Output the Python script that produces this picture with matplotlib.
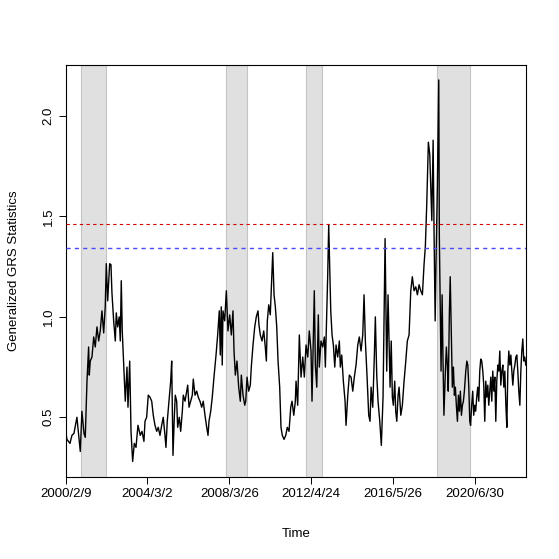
import matplotlib
matplotlib.use("Agg")
import matplotlib.pyplot as plt

plt.rcParams["font.family"] = ["Liberation Sans", "DejaVu Sans"]

obs = [1, 17, 54, 78, 103, 139, 180, 200, 225, 241, 262, 282, 290, 302, 323, 344, 363, 384,
       405, 424, 445, 466, 485, 498, 515, 539, 555, 567, 588, 608, 620, 637, 656, 669, 681,
       693, 710, 730, 751, 763, 784, 800, 820, 840, 861, 885, 913, 934, 958,
       971, 991, 1011, 1032, 1053, 1072, 1093, 1114, 1133, 1154, 1175, 1194, 1215, 1227,
       1243, 1264, 1285, 1297, 1304, 1313, 1329, 1341, 1358, 1370, 1390, 1407, 1427, 1439,
       1460, 1480, 1493, 1509, 1529, 1549, 1561, 1582, 1603, 1622, 1643, 1664, 1683, 1704,
       1725, 1741, 1753, 1774, 1793, 1814, 1839, 1859, 1879, 1891, 1903, 1915, 1924,
       1945, 1965, 1985, 2006, 2026, 2046, 2059, 2075, 2095, 2116, 2136, 2148, 2169, 2190,
       2202, 2218, 2238, 2258, 2270, 2291, 2312, 2331, 2352, 2364, 2380, 2401, 2422, 2441,
       2454, 2466, 2483, 2502, 2515, 2532, 2548, 2564, 2581, 2597, 2617, 2633, 2649, 2670,
       2691, 2710, 2731, 2752, 2768, 2789, 2808,
       2817, 2837, 2857, 2878, 2899, 2918, 2939, 2960, 2979, 3000, 3012, 3028, 3040, 3053,
       3070, 3089, 3101, 3122, 3143, 3163, 3175, 3192, 3204, 3216, 3228, 3241, 3257, 3273,
       3290, 3306, 3326, 3346, 3358, 3375, 3395, 3416, 3428, 3449, 3468, 3489, 3510, 3529,
       3550, 3571, 3590, 3611, 3632, 3648, 3664, 3685, 3705, 3721, 3734, 3754, 3774, 3786,
       3803, 3819,
       3840, 3859, 3880, 3892, 3905, 3917, 3925, 3941, 3953, 3966, 3980, 3994, 4006, 4023,
       4035, 4048, 4064, 4076, 4097, 4116, 4137, 4158, 4177, 4198, 4219, 4238, 4259, 4280,
       4300, 4320, 4341, 4361, 4381, 4397, 4414, 4434, 4451, 4463, 4476, 4492, 4504, 4517,
       4529, 4544, 4561, 4568,
       4577, 4589, 4602, 4612, 4624, 4642, 4654, 4666, 4677, 4691, 4701, 4715, 4727, 4740,
       4752, 4764, 4776, 4789, 4801, 4813, 4825, 4838, 4850, 4862, 4874, 4891, 4904, 4916,
       4928, 4940, 4950, 4963, 4976, 4988, 5000, 5012, 5025, 5037, 5050, 5062, 5074, 5086,
       5099, 5111, 5123, 5136, 5148, 5160, 5172, 5185, 5197, 5209, 5221, 5234, 5246, 5258,
       5270, 5283, 5295, 5307, 5319, 5332, 5344, 5356, 5368, 5381, 5393, 5405, 5417, 5430,
       5442, 5454, 5466, 5478, 5491, 5503, 5515, 5527, 5539, 5552, 5564, 5576, 5588, 5600,
       5612, 5625]

grs = [0.43, 0.39, 0.37, 0.41, 0.42, 0.50, 0.33, 0.53, 0.42, 0.40, 0.68, 0.85, 0.71, 0.78,
       0.80, 0.90, 0.85, 0.95, 0.88, 0.93, 1.03, 0.92, 1.05, 1.265, 1.08, 1.265, 1.26, 1.12,
       0.98, 0.88, 1.02, 0.95, 1.00, 0.88, 1.18, 0.93, 0.77, 0.58, 0.75, 0.55, 0.78, 0.43,
       0.28, 0.37, 0.35, 0.46, 0.41, 0.43, 0.38,
       0.48, 0.50, 0.61, 0.60, 0.58, 0.51, 0.46, 0.43, 0.45, 0.41, 0.46, 0.50, 0.41, 0.35,
       0.48, 0.58, 0.68, 0.78, 0.58, 0.31, 0.50, 0.61, 0.58, 0.45, 0.50, 0.43, 0.53, 0.61,
       0.58, 0.63, 0.66, 0.55, 0.58, 0.61, 0.69, 0.61, 0.63, 0.60, 0.58, 0.55, 0.58, 0.51,
       0.45, 0.41, 0.48, 0.53, 0.60, 0.70, 0.81, 0.91, 1.03, 0.81, 1.05, 0.76, 1.03,
       0.98, 1.13, 0.93, 1.01, 0.91, 1.03, 0.83, 0.71, 0.78, 0.65, 0.58, 0.71, 0.61, 0.56,
       0.58, 0.70, 0.63, 0.66, 0.75, 0.86, 0.95, 1.00, 1.03, 0.96, 0.91, 0.88, 0.93, 0.85,
       0.78, 0.98, 1.06, 1.01, 1.15, 1.32, 1.11, 1.05, 0.95, 0.78, 0.65, 0.45, 0.41, 0.39,
       0.41, 0.45, 0.43, 0.55, 0.58, 0.51, 0.58,
       0.68, 0.56, 0.91, 0.70, 0.80, 0.70, 0.86, 0.80, 0.93, 0.83, 0.58, 0.88, 1.13, 0.76,
       0.65, 1.01, 0.75, 0.88, 0.85, 0.90, 0.75, 1.03, 1.21, 1.46, 1.25, 1.03, 0.91, 0.86,
       0.75, 0.86, 0.80, 0.88, 0.75, 0.81, 0.68, 0.58, 0.46, 0.61, 0.71, 0.70, 0.63, 0.70,
       0.76, 0.86, 0.90, 0.83, 0.91, 1.11, 0.88, 0.70, 0.51, 0.48, 0.65, 0.55, 0.81, 1.00,
       0.71, 0.58,
       0.48, 0.36, 0.60, 0.98, 1.39, 0.98, 0.73, 1.11, 0.90, 0.65, 0.88, 0.60, 0.56, 0.68,
       0.53, 0.48, 0.61, 0.65, 0.51, 0.56, 0.68, 0.78, 0.88, 0.91, 1.13, 1.20, 1.13, 1.15,
       1.11, 1.16, 1.13, 1.11, 1.26, 1.35, 1.56, 1.87, 1.81, 1.65, 1.48, 1.88, 1.40, 0.98,
       1.31, 1.65, 2.18, 1.40,
       1.13, 0.73, 1.11, 0.81, 0.51, 0.73, 0.85, 0.76, 0.63, 1.03, 1.20, 0.90, 0.65, 0.75,
       0.61, 0.65, 0.56, 0.48, 0.61, 0.53, 0.63, 0.51, 0.56, 0.58, 0.63, 0.73, 0.78, 0.76,
       0.65, 0.48, 0.46, 0.56, 0.63, 0.51, 0.56, 0.53, 0.60, 0.65, 0.58, 0.73, 0.79, 0.78,
       0.73, 0.66, 0.48, 0.68, 0.60, 0.66, 0.56, 0.63, 0.70, 0.58, 0.73, 0.63, 0.70, 0.48,
       0.68, 0.76, 0.73, 0.83, 0.66, 0.73, 0.76, 0.65, 0.73, 0.56, 0.45, 0.73, 0.83, 0.76,
       0.81, 0.73, 0.66, 0.73, 0.76, 0.80, 0.81, 0.73, 0.63, 0.56, 0.73, 0.83, 0.89, 0.78,
       0.80, 0.76]

n_obs = 5628

# shaded crisis periods (start / end observation)
crisis_start = [185, 1957, 2943, 4544]
crisis_end = [490, 2214, 3131, 4947]

# critical values
crit_red = 1.464
crit_blue = 1.345

tick_obs = [1, 1001, 2001, 3001, 4001, 5001]
tick_dates = ["2000/2/9", "2004/3/2", "2008/3/26", "2012/4/24", "2016/5/26", "2020/6/30"]

fig = plt.figure(figsize=(5.59, 5.59), dpi=100)
ax = fig.add_axes([0.1174, 0.1472, 0.8237, 0.7371])

for s, e in zip(crisis_start, crisis_end):
    ax.axvspan(s, e, facecolor="#e0e0e0", edgecolor="#c4c4c4", linewidth=0.8, zorder=0)

ax.plot(obs, grs, color="black", linewidth=1.0, zorder=2)
ax.axhline(crit_red, color="#d00000", linestyle=(0, (3, 3)), linewidth=0.8, zorder=3)
ax.axhline(crit_blue, color="#4a4aff", linestyle=(0, (3, 3)), linewidth=1.0, zorder=3)

# R-style 4% padding on y, none on x
lo, hi = min(grs), max(grs)
pad = 0.04 * (hi - lo)
ax.set_ylim(lo - pad, hi + pad)
ax.set_xlim(1, n_obs)

ax.set_xticks(tick_obs)
ax.set_xticklabels(tick_dates)
ax.set_yticks([0.5, 1.0, 1.5, 2.0])
ax.set_yticklabels(["0.5", "1.0", "1.5", "2.0"], rotation=90, va="center")
ax.tick_params(axis="both", direction="out", length=5, width=0.7, labelsize=9.5, pad=3)

ax.set_xlabel("Time", fontsize=9.5, labelpad=20)
ax.set_ylabel("Generalized GRS Statistics", fontsize=9.5, labelpad=16)
for sp in ax.spines.values():
    sp.set_linewidth(0.8)

fig.savefig("out.png", dpi=100)
